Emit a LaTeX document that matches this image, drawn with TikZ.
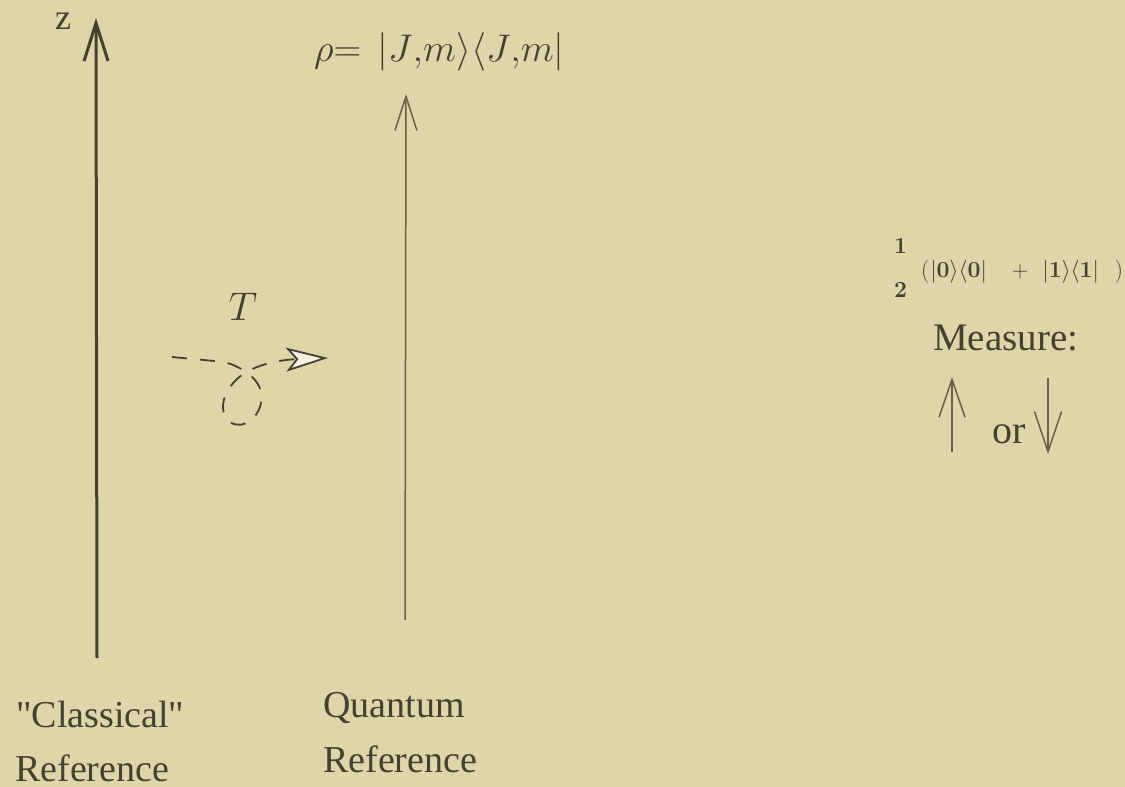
\RequirePackage{fix-cm}
\documentclass[tikz,border=0pt]{standalone}
\usepackage{amsmath}
\usepackage[no-math]{fontspec}
\setmainfont{Liberation Serif}[Ligatures=TeXOff]
\usetikzlibrary{arrows.meta}
\definecolor{bg}{RGB}{221,214,169}
\definecolor{ink}{RGB}{70,64,46}
\definecolor{inkl}{RGB}{105,98,72}
\begin{document}
\begin{tikzpicture}[x=1pt,y=-1pt,
  txt/.style={inner sep=0pt, text=ink, anchor=base west, font=\fontsize{38}{40}\selectfont},
  small/.style={txt, font=\fontsize{23}{25}\selectfont},
]
\fill[bg] (0,0) rectangle (1125,787);
\useasboundingbox (0,0) rectangle (1125,787);

% classical reference axis
\coordinate (cb) at (97,658);
\coordinate (ct) at (96,18);
\draw[ink, line width=3pt, -{Straight Barb[length=38pt,width=24pt]}] (cb) -- (ct);
\node[txt, font=\fontsize{36}{40}\selectfont] (z) at (55,30) {z};

% quantum reference axis
\coordinate (qb) at (405,620);
\coordinate (qt) at (406,94);
\draw[inkl, line width=1.5pt, -{Straight Barb[length=34pt,width=22pt]}] (qb) -- (qt);
\node[txt, font=\fontsize{38.5}{42}\selectfont] (rho) at (314,61)
  {$\rho{=}\hspace{0.42em}|J{,}m\rangle\langle J{,}m|$};

% transformation T
\node[txt, anchor=center, font=\fontsize{40}{42}\selectfont] (T) at (243,307) {$T$};
\coordinate (ts) at (172,357);
\coordinate (te) at (328,358);
\draw[ink, line width=1.8pt, dash pattern=on 15pt off 13pt,
  -{Stealth[open, length=42pt, width=24pt, inset=10pt, fill=bg!30!white]}]
  (ts) -- (225,362) .. controls (250,370) and (265,385) .. (261,403)
  .. controls (257,423) and (236,432) .. (226,418)
  .. controls (217,402) and (230,382) .. (245,373)
  .. controls (256,366) and (275,360) .. (te);

% labels at the bottom
\node[txt] (cl1) at (16,727) {"Classical"};
\node[txt] (cl2) at (15,781) {Reference};
\node[txt] (ql1) at (323,717) {Quantum};
\node[txt] (ql2) at (323,772) {Reference};

% right side
\node[small] (num) at (894,253) {$\mathbf{1}$};
\node[small] (den) at (894,297) {$\mathbf{2}$};
\node[small] (mix) at (921,277)
  {$(\hspace{1pt}|\mathbf{0}\rangle\langle\mathbf{0}|\hspace{25pt}{+}\hspace{14pt}|\mathbf{1}\rangle\langle\mathbf{1}|\hspace{16pt})$};
\node[txt, font=\fontsize{39}{42}\selectfont] (meas) at (933,350) {Measure:};
\coordinate (ub) at (952,452);
\coordinate (ut) at (952,377);
\draw[inkl, line width=1.5pt, -{Straight Barb[length=38pt,width=26pt]}] (ub) -- (ut);
\node[txt, font=\fontsize{40}{42}\selectfont] (or) at (992,443) {or};
\coordinate (db) at (1048,378);
\coordinate (dt) at (1048,454);
\draw[inkl, line width=1.5pt, -{Straight Barb[length=40pt,width=27pt]}] (db) -- (dt);
\end{tikzpicture}
\end{document}
